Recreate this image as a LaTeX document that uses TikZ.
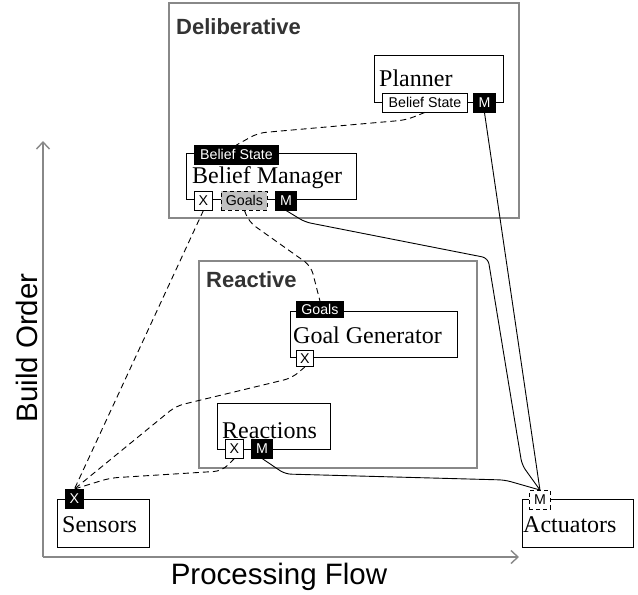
\documentclass[tikz,border=0pt]{standalone}
\usepackage{fontspec}
\setmainfont{Liberation Serif}
\setsansfont{Liberation Sans}
\usetikzlibrary{arrows.meta}

\definecolor{framegray}{HTML}{888888}
\definecolor{titlegray}{HTML}{333333}
\definecolor{goalgray}{HTML}{C0C0C0}

\tikzset{
  layer/.style={draw=framegray, line width=2pt, fill=none, inner sep=0pt, anchor=north west},
  layertitle/.style={anchor=base west, inner sep=0pt, text=titlegray,
    font=\sffamily\bfseries\fontsize{22}{22}\selectfont},
  module/.style={draw=black, line width=1pt, fill=white, inner sep=0pt, anchor=north west},
  modname/.style={anchor=base west, inner sep=0pt, font=\fontsize{24}{24}\selectfont},
  port/.style={draw=black, line width=0.9pt, inner sep=0pt, anchor=north west,
    minimum height=18.5pt, font=\sffamily\fontsize{14.2}{14.2}\selectfont},
  portdark/.style={port, fill=black, text=white},
  portlight/.style={port, fill=white},
  portgoal/.style={port, fill=goalgray, dashed, dash pattern=on 4pt off 3pt},
  portext/.style={port, fill=white, dashed, dash pattern=on 4pt off 3pt},
  info/.style={draw=black, line width=0.9pt, dash pattern=on 6pt off 4pt, rounded corners=8pt},
  act/.style={draw=black, line width=0.9pt, rounded corners=6pt},
  axisline/.style={draw=framegray, line width=1.6pt, -{Straight Barb[length=7pt,width=13pt,line width=1.4pt]}},
  axislabel/.style={inner sep=0pt, font=\sffamily\fontsize{29.5}{29.5}\selectfont}
}

\begin{document}
\begin{tikzpicture}[x=1pt,y=-1pt]
\useasboundingbox (0,0) rectangle (638,595);

% layers
\node[layer, minimum width=350pt, minimum height=215pt] (delib) at (168,2) {};
\node[layertitle] (delibT) at (176,34) {Deliberative};
\node[layer, minimum width=278pt, minimum height=207pt] (react) at (198,260) {};
\node[layertitle] (reactT) at (206,287) {Reactive};

% modules
\node[module, minimum width=129pt, minimum height=47pt] (planner) at (374,55) {};
\node[modname] (plannerT) at (379,86) {Planner};

\node[module, minimum width=170pt, minimum height=46pt] (bm) at (186,153) {};
\node[modname] (bmT) at (192,183) {Belief Manager};

\node[module, minimum width=167pt, minimum height=46pt] (gg) at (290,311) {};
\node[modname] (ggT) at (293,343) {Goal Generator};

\node[module, minimum width=113pt, minimum height=46pt] (rc) at (217,403) {};
\node[modname] (rcT) at (222,438) {Reactions};

\node[module, minimum width=92pt, minimum height=48pt] (sens) at (57,499) {};
\node[modname] (sensT) at (62,532) {Sensors};

\node[module, minimum width=111pt, minimum height=48pt] (actu) at (522,499) {};
\node[modname] (actuT) at (523,532) {Actuators};

% axes
\coordinate (origin) at (43,557);
\coordinate (ytip) at (43,141);
\coordinate (xtip) at (519,557);
\draw[axisline] (origin) -- (ytip);
\draw[axisline] (origin) -- (xtip);
\node[axislabel, rotate=90] (yl) at (27,348) {Build Order};
\node[axislabel] (xl) at (279,577) {Processing Flow};

% ports
\node[portlight, minimum width=85pt] (pBS) at (382,93) {Belief State};
\node[portdark, minimum width=22pt] (pM) at (473,93) {M};

\node[portdark, minimum width=84pt] (bmBS) at (194,145) {Belief State};
\node[portlight, minimum width=18pt] (bmX) at (194,191) {X};
\node[portgoal, minimum width=46pt] (bmG) at (221,191) {Goals};
\node[portdark, minimum width=21pt] (bmM) at (275,191) {M};

\node[portdark, minimum width=47pt, minimum height=15.5pt] (ggG) at (296,301) {Goals};
\node[portlight, minimum width=17pt, minimum height=16pt] (ggX) at (296,350) {X};

\node[portlight, minimum width=18pt] (rcX) at (225,439) {X};
\node[portdark, minimum width=21pt] (rcM) at (251,439) {M};

\node[portdark, minimum width=18pt] (sX) at (65,489) {X};
\node[portext, minimum width=21pt] (aM) at (529,490) {M};

% information flow (dashed)
\draw[info] (pBS.south) -- (406,120) -- (258,133) -- (bmBS.north);
\draw[info] (bmX.south) -- (sX.north);
\draw[info] (bmG.south) -- (249,222) -- (311,266) -- (ggG.north);
\draw[info] (ggX.south) -- (292,378) -- (176,406) -- (sX.north);
\draw[info] (rcX.south) -- (222,471) -- (110,478) -- (sX.north);

% motor commands (solid)
\draw[act] (bmM.south) -- (305,222) -- (488,258) -- (522,465) -- (aM.north);
\draw[act] (pM.south) -- (aM.north);
\draw[act] (rcM.south) -- (285,474) -- (505,480) -- (aM.north);
\end{tikzpicture}
\end{document}
